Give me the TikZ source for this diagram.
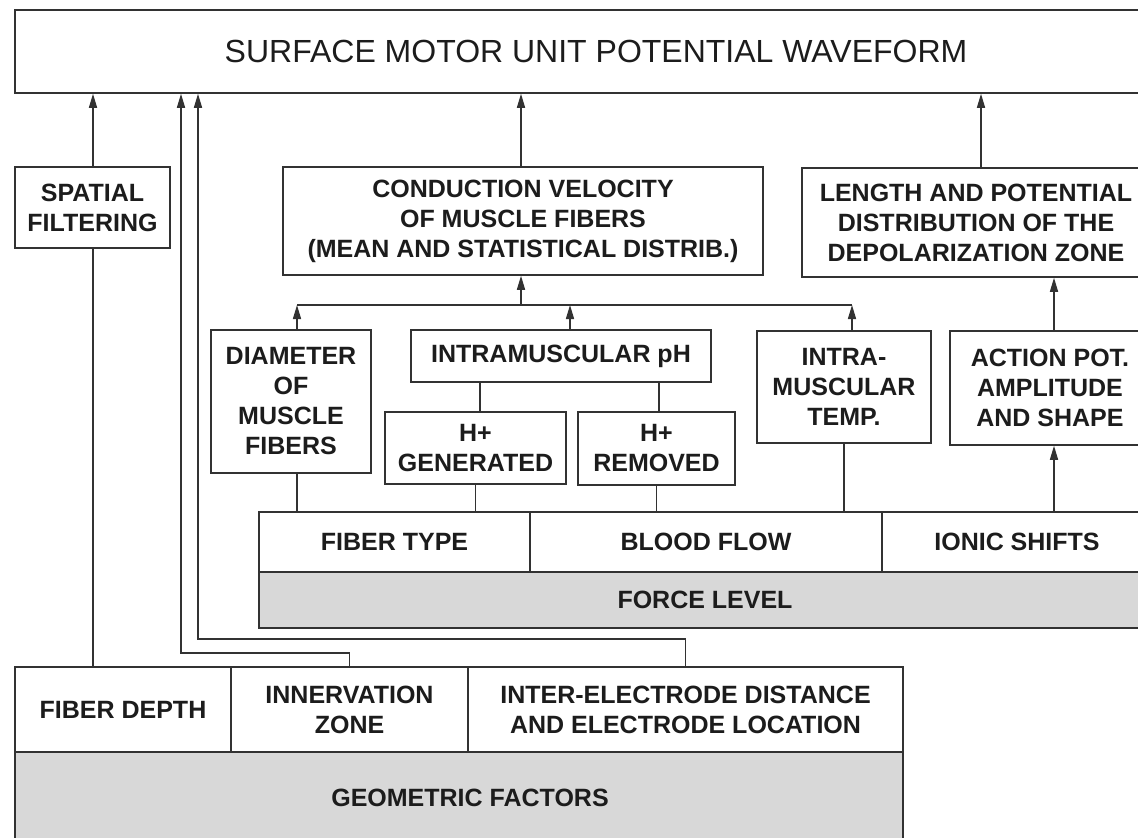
\documentclass[tikz,border=0pt]{standalone}
\usepackage{fontspec}
\setmainfont{Liberation Sans}
\usetikzlibrary{arrows.meta}
\definecolor{ln}{RGB}{50,50,50}
\definecolor{tx}{RGB}{28,28,28}
\definecolor{shade}{RGB}{216,216,216}
\tikzset{
  blk/.style={draw=ln, line width=1.5pt, inner sep=0pt, align=center, text=tx,
    font=\bfseries\fontsize{25}{30}\selectfont, fill=white},
  gry/.style={blk, fill=shade},
  ttl/.style={blk, font=\fontsize{32}{38}\selectfont},
  con/.style={draw=ln, line width=1.5pt},
  arr/.style={con, -{Triangle[length=14pt,width=8pt]}}
}
\begin{document}
\begin{tikzpicture}[x=1pt,y=-1pt]
\useasboundingbox (0,0) rectangle (1138,838);
\clip (0,0) rectangle (1138,838);
\fill[white] (0,0) rectangle (1138,838);

% boxes
\node[ttl, minimum width=1162pt, minimum height=83pt] (top) at (596,51.5) {SURFACE MOTOR UNIT POTENTIAL WAVEFORM};
\node[blk, minimum width=155pt, minimum height=81pt] (sp) at (92.5,207.5) {SPATIAL\\FILTERING};
\node[blk, minimum width=480pt, minimum height=108pt] (cv) at (523,221) {CONDUCTION VELOCITY\\OF MUSCLE FIBERS\\(MEAN AND STATISTICAL DISTRIB.)};
\node[blk, minimum width=348pt, minimum height=109pt] (len) at (976,222.5) {LENGTH AND POTENTIAL\\DISTRIBUTION OF THE\\DEPOLARIZATION ZONE};
\node[blk, minimum width=160pt, minimum height=143pt] (diam) at (291,401.5) {DIAMETER\\OF\\MUSCLE\\FIBERS};
\node[blk, minimum width=300pt, minimum height=52pt] (ph) at (561,356) {INTRAMUSCULAR pH};
\node[blk, minimum width=181pt, minimum height=72pt] (gen) at (475.5,448) {H+\\GENERATED};
\node[blk, minimum width=157pt, minimum height=73pt] (rem) at (656.5,448.5) {H+\\REMOVED};
\node[blk, minimum width=174pt, minimum height=112pt] (temp) at (844,387) {INTRA-\\MUSCULAR\\TEMP.};
\node[blk, minimum width=200pt, minimum height=114pt] (act) at (1050,388) {ACTION POT.\\AMPLITUDE\\AND SHAPE};

\node[gry, minimum width=892pt, minimum height=56pt] (fl) at (705,600) {FORCE LEVEL};
\node[blk, minimum width=271pt, minimum height=60pt] (ft) at (394.5,542) {FIBER TYPE};
\node[blk, minimum width=352pt, minimum height=60pt] (bf) at (706,542) {BLOOD FLOW};
\node[blk, minimum width=270pt, minimum height=60pt] (is) at (1017,542) {IONIC SHIFTS};

\node[gry, minimum width=888pt, minimum height=92pt] (gf) at (459,798) {\hspace*{22pt}GEOMETRIC FACTORS};
\node[blk, minimum width=216pt, minimum height=85pt] (fd) at (123,709.5) {FIBER DEPTH};
\node[blk, minimum width=237pt, minimum height=85pt] (iz) at (349.5,709.5) {INNERVATION\\ZONE};
\node[blk, minimum width=435pt, minimum height=85pt] (ed) at (685.5,709.5) {INTER-ELECTRODE DISTANCE\\AND ELECTRODE LOCATION};

% helper coordinates
\coordinate (br) at (521,305);
\coordinate (bD) at (297,305);
\coordinate (bP) at (570,305);
\coordinate (bT) at (852,305);
\coordinate (xL) at (981,0);
\coordinate (xA) at (1054,0);
\coordinate (iz1) at (181,653);
\coordinate (ed1) at (198,639);
\coordinate (xg) at (480,0);
\coordinate (xr) at (659,0);
\coordinate (xd) at (93,0);

% connectors to top
\draw[arr] (xd |- sp.north) -- (xd |- top.south);
\draw[con] (xd |- fd.north) -- (xd |- sp.south);
\draw[arr] (iz.north) |- (iz1) -- (iz1 |- top.south);
\draw[arr] (ed.north) |- (ed1) -- (ed1 |- top.south);
\draw[arr] (br |- cv.north) -- (br |- top.south);
\draw[arr] (xL |- len.north) -- (xL |- top.south);

% branch to conduction velocity
\draw[arr] (br) -- (br |- cv.south);
\draw[con] (bD) -- (bT);
\draw[arr] (bD |- diam.north) -- (bD);
\draw[arr] (bP |- ph.north) -- (bP);
\draw[arr] (bT |- temp.north) -- (bT);

% pH sub-boxes
\draw[con] (xg |- ph.south) -- (xg |- gen.north);
\draw[con] (xr |- ph.south) -- (xr |- rem.north);

% links from row
\draw[con] (bD |- diam.south) -- (bD |- ft.north);
\draw[con] (gen.south) -- (gen.south |- ft.north);
\draw[con] (rem.south) -- (rem.south |- bf.north);
\draw[con] (temp.south) -- (temp.south |- bf.north);
\draw[arr] (xA |- is.north) -- (xA |- act.south);
\draw[arr] (xA |- act.north) -- (xA |- len.south);
\end{tikzpicture}
\end{document}
